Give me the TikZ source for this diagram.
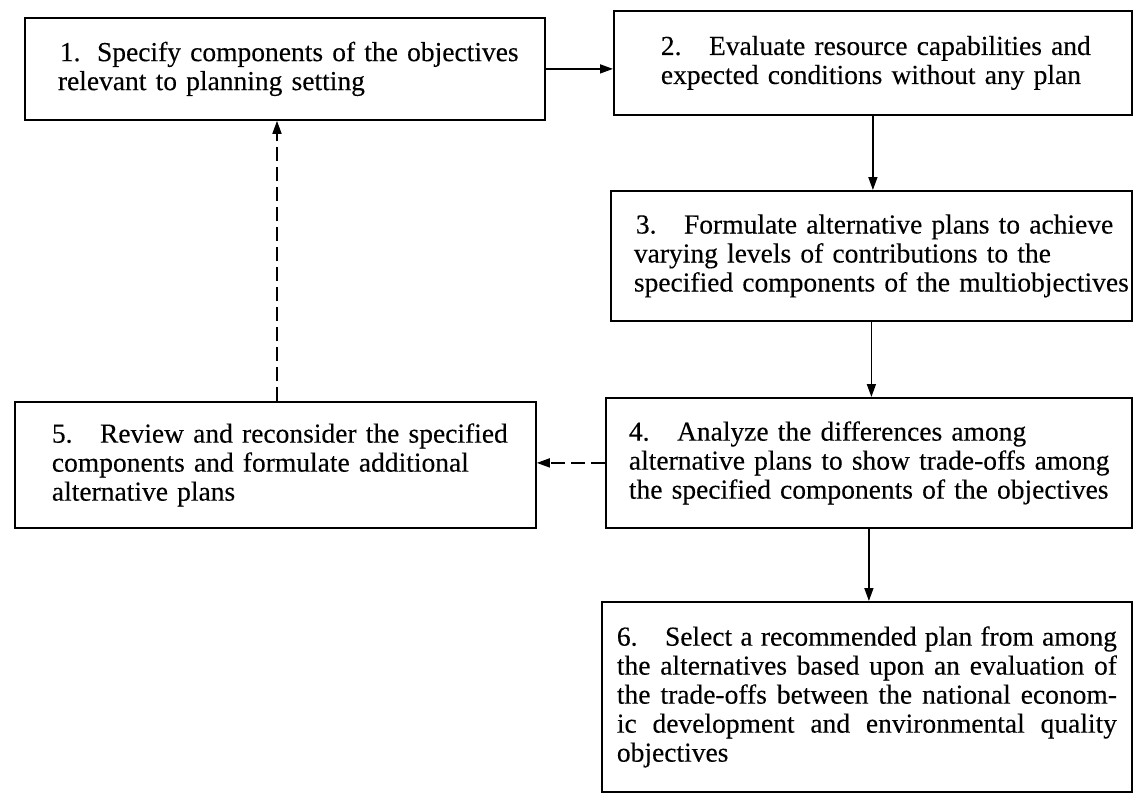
\documentclass[tikz,border=0pt]{standalone}
\usepackage{fontspec}
\setmainfont{Liberation Serif}
\newfontfamily\heavyserif{Liberation Serif}[FakeBold=0.25]
\usetikzlibrary{arrows.meta}
\hyphenpenalty=10000
\begin{document}
\begin{tikzpicture}[x=1pt,y=-1pt,
  box/.style={draw, line width=1.8pt, anchor=north west, inner xsep=3pt, inner ysep=0pt,
    align=left, font=\heavyserif\fontsize{27.5}{29}\selectfont},
  arr/.style={line width=1.6pt, -{Triangle[length=13pt,width=9pt]}},
  darr/.style={arr, dash pattern=on 14pt off 6pt}]
\useasboundingbox (0,0) rectangle (1133,795);
\node[box, minimum width=520pt, minimum height=102pt, text width=514pt] (b1) at (24,17)
  {\hspace*{32pt}1.\hskip .6em Specify components of the objectives\\
   \hspace*{30pt}relevant to planning setting};
\node[box, minimum width=518pt, minimum height=104pt, text width=512pt] (b2) at (613,10)
  {\hspace*{44pt}2.\quad Evaluate resource capabilities and\\
   \hspace*{44pt}expected conditions without any plan};
\node[box, minimum width=521pt, minimum height=130pt, text width=515pt] (b3) at (610,190)
  {\hspace*{22pt}3.\quad Formulate alternative plans to achieve\\
   \hspace*{20pt}varying levels of contributions to the\\
   \hspace*{20pt}specified components of the multiobjectives};
\node[box, minimum width=526pt, minimum height=130pt, text width=520pt] (b4) at (605,397)
  {\hspace*{20pt}4.\quad Analyze the differences among\\
   \hspace*{20pt}alternative plans to show trade-offs among\\
   \hspace*{20pt}the specified components of the objectives};
\node[box, minimum width=521pt, minimum height=126pt, text width=515pt] (b5) at (14,401)
  {\hspace*{34pt}5.\quad Review and reconsider the specified\\
   \hspace*{34pt}components and formulate additional\\
   \hspace*{34pt}alternative plans};
\node[box, align=justify, minimum width=530pt, minimum height=190pt, text width=500pt] (b6) at (601,601)
  {6.\quad Select a recommended plan from among\linebreak
   the alternatives based upon an evaluation of\linebreak
   the trade-offs between the national econom-\linebreak
   ic development and environmental quality\linebreak
   objectives};
\draw[arr] (b1.east) -- (b1.east -| b2.west);
\draw[arr] (b2.south) -- (b2.south |- b3.north);
\draw[arr] (b3.south) -- (b3.south |- b4.north);
\draw[arr] (b4.south) -- (b4.south |- b6.north);
\draw[darr] (b4.west) -- (b4.west -| b5.east);
\coordinate (d5) at ([xshift=263pt]b5.north west);
\draw[darr] (d5) -- (d5 |- b1.south);
\end{tikzpicture}
\end{document}
